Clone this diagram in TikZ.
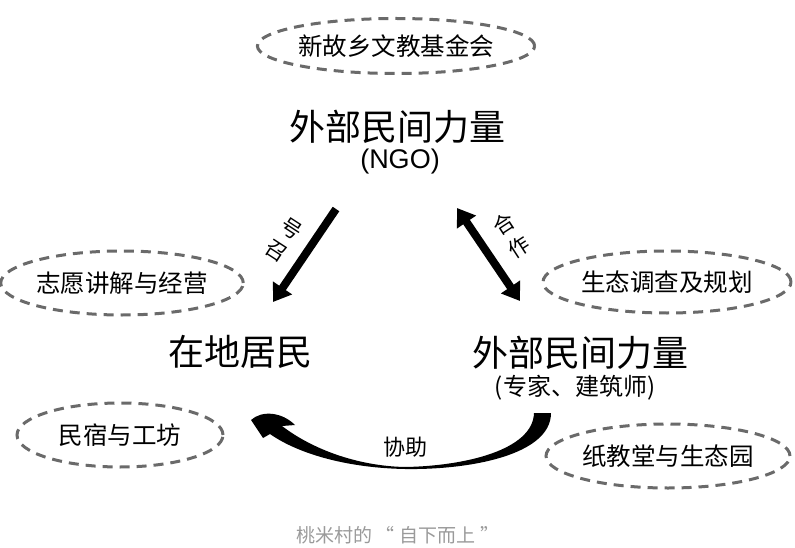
\documentclass[tikz,border=0pt]{standalone}
\usepackage{fontspec}
\setmainfont{Noto Sans CJK SC}
\newfontfamily\latinfont{Liberation Sans}
\usetikzlibrary{arrows.meta,shapes.geometric}
\definecolor{dashgray}{HTML}{6A6A6A}
\definecolor{capgray}{HTML}{9A9A9A}
\begin{document}
\begin{tikzpicture}[x=1pt,y=-1pt,
  bubble/.style={draw=dashgray, line width=3pt, dash pattern=on 10pt off 7pt,
    ellipse, inner sep=0pt, font=\fontsize{24.5}{26}\selectfont},
  bigtext/.style={font=\fontsize{36}{40}\selectfont, inner sep=0pt},
  subtext/.style={font=\fontsize{24}{26}\selectfont, inner sep=0pt},
  arrlabel/.style={font=\fontsize{21}{24}\selectfont, inner sep=0pt},
  fatarrow/.style={line width=8pt, black}]
\useasboundingbox (0,0) rectangle (795,548);

% ellipses
\node[bubble, minimum width=272pt, minimum height=55pt] (fund) at (396,46) {新故乡文教基金会};
\node[bubble, minimum width=230pt, minimum height=64pt] (vol) at (122,283) {志愿讲解与经营};
\node[bubble, minimum width=206pt, minimum height=64pt] (inn) at (120,435) {民宿与工坊};
\node[bubble, minimum width=248pt, minimum height=62pt] (eco) at (667,282) {生态调查及规划};
\node[bubble, minimum width=244pt, minimum height=64pt] (paper) at (668,456) {纸教堂与生态园};

% main texts
\node[bigtext] (ngo) at (397,127) {外部民间力量};
\node[inner sep=0pt, font=\latinfont\fontsize{27}{30}\selectfont] (ngosub) at (400,162) {(NGO)};
\node[bigtext] (res) at (240,352) {在地居民};
\node[bigtext] (exp) at (580,353) {外部民间力量};
\node[subtext] (expsub) at (575,388) {(专家、建筑师)};

% straight arrows
\coordinate (a1s) at (336,209);
\coordinate (a1e) at (273,302);
\coordinate (a2s) at (457,208);
\coordinate (a2e) at (520,301);
\draw[fatarrow, -{Triangle[width=22pt,length=17pt]}] (a1s) -- (a1e);
\draw[fatarrow, {Triangle[width=22pt,length=17pt]}-{Triangle[width=22pt,length=17pt]}] (a2s) -- (a2e);

\node[arrlabel, rotate=-33] (lab1a) at (291.5,228.5) {号};
\node[arrlabel, rotate=-33] (lab1b) at (276.5,251.5) {召};
\node[arrlabel, rotate=33] (lab2a) at (503.5,224.5) {合};
\node[arrlabel, rotate=33] (lab2b) at (518.5,247.5) {作};

% curved tapered arrow
\fill[black] (551,413) .. controls (551,455) and (470,470) .. (405,469)
  .. controls (350,468) and (300,455) .. (270,434)
  -- (263,438) -- (251,420)
  .. controls (262,410) and (282,412) .. (295,425)
  -- (282,426)
  .. controls (312,449) and (357,466) .. (405,467)
  .. controls (465,466) and (533,450) .. (534,413) -- cycle;
\node[font=\fontsize{22}{24}\selectfont, inner sep=0pt] (help) at (405,447) {协助};

% caption
\node[font=\fontsize{19}{20}\selectfont, text=capgray, inner sep=0pt] (cap) at (398,535) {桃米村的\hspace{4pt}“\hspace{5pt}自下而上\hspace{5pt}”};
\end{tikzpicture}
\end{document}
